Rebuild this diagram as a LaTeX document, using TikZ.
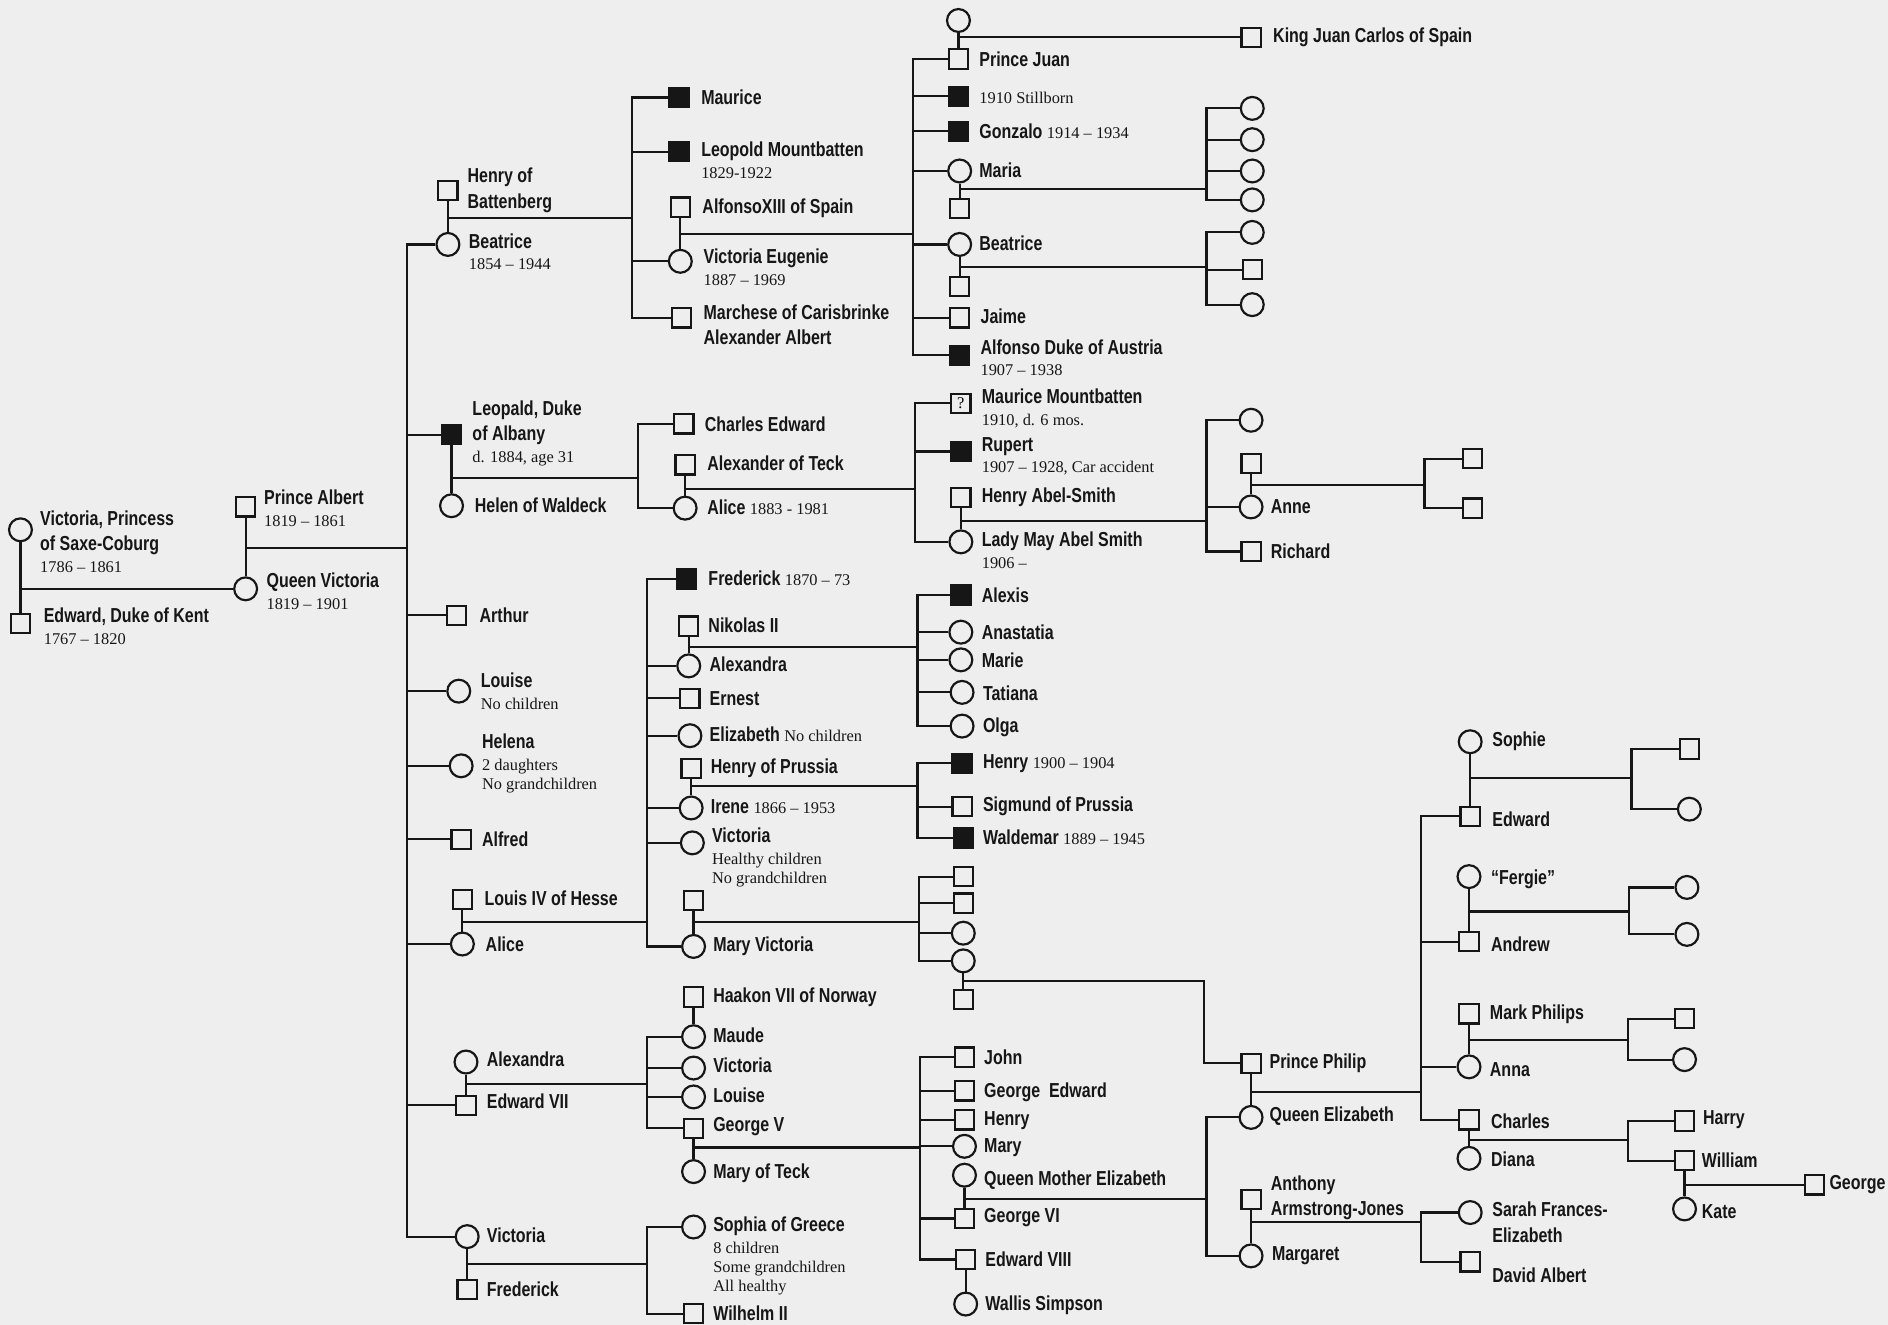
\documentclass[tikz,border=0pt]{standalone}
\usepackage{fontspec}
\setmainfont{Liberation Sans}
\newfontfamily\namefont[Ligatures=TeX,FakeStretch=0.79]{Liberation Sans Bold}
\newfontfamily\yearfont[Ligatures=TeX]{Liberation Serif}
\newcommand\nmf{\namefont\fontsize{8.4}{10.5}\selectfont}
\newcommand\yr{\yearfont\fontsize{6.8}{8}\selectfont}
\definecolor{paper}{RGB}{238,238,238}
\definecolor{ink}{RGB}{22,22,22}

\tikzset{
  man/.style={draw=ink, rectangle, minimum size=8pt, inner sep=0pt, line width=0.9pt},
  woman/.style={draw=ink, circle, minimum size=9.5pt, inner sep=0pt, line width=0.9pt},
  dead/.style={man, fill=ink},
  nm/.style={anchor=west, inner sep=0pt, align=left, font=\nmf, text=ink},
  tie/.style={draw=ink, line width=0.9pt},
}

\begin{document}
\begin{tikzpicture}[x=0.5pt,y=-0.5pt]
  \fill[paper] (0,0) rectangle (1568,1100);

  % Victoria's parents
  \node[woman] (vps) at (17,440) {};
  \node[man] (edk) at (17,518) {};
  \node[nm] (tvps) at (33,450) {Victoria, Princess\\of Saxe-Coburg\\[-1.5pt]{\yr 1786 -- 1861}};
  \node[nm] (tedk) at (36,520) {Edward, Duke of Kent\\[-1.5pt]{\yr 1767 -- 1820}};

  % Albert and Victoria
  \node[man] (albert) at (204,421) {};
  \node[woman] (qv) at (204,489) {};
  \node[nm] (talbert) at (219,422) {Prince Albert\\[-1.5pt]{\yr 1819 -- 1861}};
  \node[nm] (tqv) at (221,491) {Queen Victoria\\[-1.5pt]{\yr 1819 -- 1901}};
  \draw[tie] (vps) -- (edk);
  \draw[tie] (vps |- qv) -- (qv);
  \draw[tie] (albert) -- (qv);
  \coordinate (mqv) at (204,455);
  \coordinate (kqv) at (338,455);
  \draw[tie] (mqv) -- (kqv);

  % their children
  \node[man] (henryb) at (372,158) {};
  \node[woman] (beatrice) at (372,203) {};
  \node[dead] (leopald) at (375,361) {};
  \node[woman] (helen) at (375,420) {};
  \node[man] (arthur) at (379,511) {};
  \node[woman] (louise) at (381,574) {};
  \node[woman] (helena) at (383,636) {};
  \node[man] (alfred) at (383,697) {};
  \node[man] (louis) at (384,747) {};
  \node[woman] (alice) at (384,784) {};
  \node[woman] (alexandra) at (387,882) {};
  \node[man] (edward7) at (387,918) {};
  \node[woman] (victoria) at (388,1027) {};
  \node[man] (frederick) at (388,1071) {};
  \node[nm] (thenryb) at (388,158) {Henry of\\Battenberg};
  \node[nm] (tbeatrice) at (389,209) {Beatrice\\[-1.5pt]{\yr 1854 -- 1944}};
  \node[nm] (tleopald) at (392,360) {Leopald, Duke\\of Albany\\[-1.5pt]{\yr d. 1884, age 31}};
  \node[nm] (thelen) at (394,420) {Helen of Waldeck};
  \node[nm] (tarthur) at (398,511) {Arthur};
  \node[nm] (tlouise) at (399,574) {Louise\\[-1.5pt]{\yr No children}};
  \node[nm] (thelena) at (400,634) {Helena\\[-1.5pt]{\yr 2 daughters}\\[-2.5pt]{\yr No grandchildren}};
  \node[nm] (talfred) at (400,697) {Alfred};
  \node[nm] (tlouis) at (402,746) {Louis IV of Hesse};
  \node[nm] (talice) at (403,784) {Alice};
  \node[nm] (talexandra) at (404,880) {Alexandra};
  \node[nm] (tedward7) at (404,915) {Edward VII};
  \node[nm] (tvictoria) at (404,1026) {Victoria};
  \node[nm] (tfrederick) at (404,1071) {Frederick};
  \foreach \c in {beatrice,leopald,arthur,louise,helena,alfred,alice,edward7,victoria}
    \draw[tie] (\c.west) -| (kqv);
  \foreach \a/\b in {henryb/beatrice,leopald/helen,louis/alice,alexandra/edward7,victoria/frederick}
    \draw[tie] (\a) -- (\b);

  % Beatrice and Henry
  \node[dead] (maurice) at (564,81) {};
  \node[dead] (leopoldm) at (564,126) {};
  \node[man] (alfonso) at (565,172) {};
  \node[woman] (victeug) at (565,217) {};
  \node[man] (marchese) at (566,264) {};
  \node[nm] (tmaurice) at (582,81) {Maurice};
  \node[nm] (tleopoldm) at (582,133) {Leopold Mountbatten\\[-1.5pt]{\yr 1829-1922}};
  \node[nm] (talfonso) at (583,173) {AlfonsoXIII of Spain};
  \node[nm] (tvicteug) at (584,222) {Victoria Eugenie\\[-1.5pt]{\yr 1887 -- 1969}};
  \node[nm] (tmarchese) at (584,270) {Marchese of Carisbrinke\\Alexander Albert};
  \coordinate (mbea) at (372,181);
  \coordinate (kbea) at (525,181);
  \draw[tie] (mbea) -- (kbea);
  \foreach \c in {maurice,leopoldm,victeug,marchese}
    \draw[tie] (\c.west) -| (kbea);
  \draw[tie] (alfonso) -- (victeug);

  % Alfonso and Victoria Eugenie
  \node[woman] (jwife) at (796,17) {};
  \node[man] (juan) at (796,49) {};
  \node[man] (jcarlos) at (1039,31) {};
  \node[dead] (still) at (796,80) {};
  \node[dead] (gonzalo) at (796,109) {};
  \node[woman] (maria) at (797,142) {};
  \node[man] (mariah) at (797,173) {};
  \node[woman] (beatrice2) at (797,203) {};
  \node[man] (beah) at (797,238) {};
  \node[man] (jaime) at (797,264) {};
  \node[dead] (alfonsoa) at (797,295) {};
  \node[nm] (tjuan) at (813,49) {Prince Juan};
  \node[nm] (tjcarlos) at (1057,31) {King Juan Carlos of Spain};
  \node[nm] (tstill) at (813,81) {{\yr 1910 Stillborn}};
  \node[nm] (tgonzalo) at (813,109) {Gonzalo {\yr 1914 -- 1934}};
  \node[nm] (tmaria) at (813,141) {Maria};
  \node[nm] (tbeatrice2) at (813,202) {Beatrice};
  \node[nm] (tjaime) at (814,263) {Jaime};
  \node[nm] (talfonsoa) at (814,297) {Alfonso Duke of Austria\\[-1.5pt]{\yr 1907 -- 1938}};
  \coordinate (malf) at (565,194);
  \coordinate (kalf) at (758,194);
  \draw[tie] (malf) -- (kalf);
  \foreach \c in {juan,still,gonzalo,maria,beatrice2,jaime,alfonsoa}
    \draw[tie] (\c.west) -| (kalf);
  \foreach \a/\b in {jwife/juan,maria/mariah,beatrice2/beah}
    \draw[tie] (\a) -- (\b);
  \coordinate (mjuan) at (796,31);
  \draw[tie] (mjuan) -- (jcarlos);

  % Maria's and Beatrice's children
  \node[woman] (ma1) at (1040,90) {};
  \node[woman] (ma2) at (1040,116) {};
  \node[woman] (ma3) at (1040,142) {};
  \node[woman] (ma4) at (1040,166) {};
  \coordinate (mmar) at (797,157);
  \coordinate (kmar) at (1002,157);
  \draw[tie] (mmar) -- (kmar);
  \foreach \c in {ma1,ma2,ma3,ma4}
    \draw[tie] (\c.west) -| (kmar);
  \node[woman] (be1) at (1040,193) {};
  \node[man] (be2) at (1040,224) {};
  \node[woman] (be3) at (1040,253) {};
  \coordinate (mbe2) at (797,222);
  \coordinate (kbe2) at (1002,222);
  \draw[tie] (mbe2) -- (kbe2);
  \foreach \c in {be1,be2,be3}
    \draw[tie] (\c.west) -| (kbe2);

  % Leopald and Helen
  \node[man] (charles) at (568,352) {};
  \node[man] (alexteck) at (569,386) {};
  \node[woman] (alice2) at (569,422) {};
  \node[nm] (tcharles) at (585,352) {Charles Edward};
  \node[nm] (talexteck) at (587,385) {Alexander of Teck};
  \node[nm] (talice2) at (587,421) {Alice {\yr 1883 - 1981}};
  \coordinate (mleo) at (375,397);
  \coordinate (kleo) at (530,397);
  \draw[tie] (mleo) -- (kleo);
  \foreach \c in {charles,alice2}
    \draw[tie] (\c.west) -| (kleo);
  \draw[tie] (alexteck) -- (alice2);

  % Alice and Alexander of Teck
  \node[man, font=\yr] (mauricem) at (798,335) {?};
  \node[dead] (rupert) at (798,375) {};
  \node[man] (henryas) at (798,413) {};
  \node[woman] (ladymay) at (798,450) {};
  \node[nm] (tmauricem) at (815,339) {Maurice Mountbatten\\[-1.5pt]{\yr 1910, d. 6 mos.}};
  \node[nm] (trupert) at (815,379) {Rupert\\[-1.5pt]{\yr 1907 -- 1928, Car accident}};
  \node[nm] (thenryas) at (815,413) {Henry Abel-Smith};
  \node[nm] (tladymay) at (815,457) {Lady May Abel Smith\\[-1.5pt]{\yr 1906 --}};
  \coordinate (mal2) at (569,406);
  \coordinate (kal2) at (760,406);
  \draw[tie] (mal2) -- (kal2);
  \foreach \c in {mauricem,rupert,ladymay}
    \draw[tie] (\c.west) -| (kal2);
  \draw[tie] (henryas) -- (ladymay);

  % Lady May and Henry Abel-Smith
  \node[woman] (lm1) at (1039,349) {};
  \node[man] (anneh) at (1039,385) {};
  \node[woman] (anne) at (1039,421) {};
  \node[man] (richard) at (1039,458) {};
  \node[nm] (tanne) at (1055,421) {Anne};
  \node[nm] (trichard) at (1055,458) {Richard};
  \coordinate (mlm) at (798,433);
  \coordinate (klm) at (1002,433);
  \draw[tie] (mlm) -- (klm);
  \foreach \c in {lm1,anne,richard}
    \draw[tie] (\c.west) -| (klm);
  \draw[tie] (anneh) -- (anne);
  \node[man] (an1) at (1223,381) {};
  \node[man] (an2) at (1223,422) {};
  \coordinate (mann) at (1039,403);
  \coordinate (kann) at (1183,403);
  \draw[tie] (mann) -- (kann);
  \foreach \c in {an1,an2}
    \draw[tie] (\c.west) -| (kann);

  % Alice and Louis IV of Hesse
  \node[dead] (frederick2) at (570,481) {};
  \node[man] (nikolas) at (572,520) {};
  \node[woman] (alexandra2) at (572,553) {};
  \node[man] (ernest) at (573,580) {};
  \node[woman] (elizabeth) at (573,611) {};
  \node[man] (henryp) at (574,638) {};
  \node[woman] (irene) at (574,671) {};
  \node[woman] (victoria2) at (575,700) {};
  \node[man] (mvh) at (576,748) {};
  \node[woman] (maryv) at (576,786) {};
  \node[nm] (tfrederick2) at (588,480) {Frederick {\yr 1870 -- 73}};
  \node[nm] (tnikolas) at (588,519) {Nikolas II};
  \node[nm] (talexandra2) at (589,552) {Alexandra};
  \node[nm] (ternest) at (589,580) {Ernest};
  \node[nm] (telizabeth) at (589,610) {Elizabeth {\yr No children}};
  \node[nm] (thenryp) at (590,638) {Henry of Prussia};
  \node[nm] (tirene) at (590,670) {Irene {\yr 1866 -- 1953}};
  \node[nm] (tvictoria2) at (591,712) {Victoria\\[-1.5pt]{\yr Healthy children}\\[-2.5pt]{\yr No grandchildren}};
  \node[nm] (tmaryv) at (592,786) {Mary Victoria};
  \coordinate (malc) at (384,766);
  \coordinate (kalc) at (537,766);
  \draw[tie] (malc) -- (kalc);
  \foreach \c in {frederick2,alexandra2,ernest,elizabeth,irene,victoria2,maryv}
    \draw[tie] (\c.west) -| (kalc);
  \foreach \a/\b in {nikolas/alexandra2,henryp/irene,mvh/maryv}
    \draw[tie] (\a) -- (\b);

  % Alexandra and Nikolas II
  \node[dead] (alexis) at (798,494) {};
  \node[woman] (anastatia) at (798,525) {};
  \node[woman] (marie) at (798,548) {};
  \node[woman] (tatiana) at (799,575) {};
  \node[woman] (olga) at (799,603) {};
  \node[nm] (talexis) at (815,494) {Alexis};
  \node[nm] (tanastatia) at (815,525) {Anastatia};
  \node[nm] (tmarie) at (815,548) {Marie};
  \node[nm] (ttatiana) at (816,576) {Tatiana};
  \node[nm] (tolga) at (816,604) {Olga};
  \coordinate (mnik) at (572,537);
  \coordinate (knik) at (762,537);
  \draw[tie] (mnik) -- (knik);
  \foreach \c in {alexis,anastatia,marie,tatiana,olga}
    \draw[tie] (\c.west) -| (knik);

  % Irene and Henry of Prussia
  \node[dead] (henry3) at (799,634) {};
  \node[man] (sigmund) at (799,670) {};
  \node[dead] (waldemar) at (800,696) {};
  \node[nm] (thenry3) at (816,634) {Henry {\yr 1900 -- 1904}};
  \node[nm] (tsigmund) at (816,670) {Sigmund of Prussia};
  \node[nm] (twaldemar) at (816,695) {Waldemar {\yr 1889 -- 1945}};
  \coordinate (mire) at (574,653);
  \coordinate (kire) at (762,653);
  \draw[tie] (mire) -- (kire);
  \foreach \c in {henry3,sigmund,waldemar}
    \draw[tie] (\c.west) -| (kire);

  % Mary Victoria
  \node[man] (mv1) at (800,728) {};
  \node[man] (mv2) at (800,750) {};
  \node[woman] (mv3) at (800,775) {};
  \node[woman] (alicea) at (800,798) {};
  \node[man] (alicah) at (800,830) {};
  \coordinate (mmv) at (576,766);
  \coordinate (kmv) at (763,766);
  \draw[tie] (mmv) -- (kmv);
  \foreach \c in {mv1,mv2,mv3,alicea}
    \draw[tie] (\c.west) -| (kmv);
  \draw[tie] (alicea) -- (alicah);

  % Edward VII and Alexandra
  \node[man] (haakon) at (576,828) {};
  \node[woman] (maude) at (576,861) {};
  \node[woman] (victoria3) at (576,887) {};
  \node[woman] (louise2) at (576,911) {};
  \node[man] (george5) at (576,937) {};
  \node[woman] (maryteck) at (576,973) {};
  \node[nm] (thaakon) at (592,828) {Haakon VII of Norway};
  \node[nm] (tmaude) at (592,860) {Maude};
  \node[nm] (tvictoria3) at (592,885) {Victoria};
  \node[nm] (tlouise2) at (592,910) {Louise};
  \node[nm] (tgeorge5) at (592,936) {George V};
  \node[nm] (tmaryteck) at (592,974) {Mary of Teck};
  \coordinate (med7) at (387,900);
  \coordinate (ked7) at (537,900);
  \draw[tie] (med7) -- (ked7);
  \foreach \c in {maude,victoria3,louise2,george5}
    \draw[tie] (\c.west) -| (ked7);
  \foreach \a/\b in {haakon/maude,george5/maryteck}
    \draw[tie] (\a) -- (\b);

  % Victoria and Frederick
  \node[woman] (sophia) at (576,1019) {};
  \node[man] (wilhelm) at (576,1091) {};
  \node[nm] (tsophia) at (592,1043) {Sophia of Greece\\[-1.5pt]{\yr 8 children}\\[-2.5pt]{\yr Some grandchildren}\\[-2.5pt]{\yr All healthy}};
  \node[nm] (twilhelm) at (592,1091) {Wilhelm II};
  \coordinate (mvic) at (388,1050);
  \coordinate (kvic) at (537,1050);
  \draw[tie] (mvic) -- (kvic);
  \foreach \c in {sophia,wilhelm}
    \draw[tie] (\c.west) -| (kvic);

  % George V and Mary of Teck
  \node[man] (john) at (801,878) {};
  \node[man] (georgee) at (801,906) {};
  \node[man] (henry4) at (801,930) {};
  \node[woman] (mary2) at (801,952) {};
  \node[woman] (qmother) at (801,976) {};
  \node[man] (george6) at (801,1012) {};
  \node[man] (edward8) at (802,1046) {};
  \node[woman] (wallis) at (802,1083) {};
  \node[nm] (tjohn) at (817,878) {John};
  \node[nm] (tgeorgee) at (817,907) {George~ Edward};
  \node[nm] (thenry4) at (817,931) {Henry};
  \node[nm] (tmary2) at (817,953) {Mary};
  \node[nm] (tqmother) at (817,980) {Queen Mother Elizabeth};
  \node[nm] (tgeorge6) at (817,1011) {George VI};
  \node[nm] (tedward8) at (818,1046) {Edward VIII};
  \node[nm] (twallis) at (818,1084) {Wallis Simpson};
  \coordinate (mge5) at (576,953);
  \coordinate (kge5) at (764,953);
  \draw[tie] (mge5) -- (kge5);
  \foreach \c in {john,georgee,henry4,mary2,george6,edward8}
    \draw[tie] (\c.west) -| (kge5);
  \foreach \a/\b in {qmother/george6,edward8/wallis}
    \draw[tie] (\a) -- (\b);

  % George VI and Elizabeth
  \node[man] (philip) at (1039,883) {};
  \node[woman] (elizabeth2) at (1039,928) {};
  \node[man] (antony) at (1039,996) {};
  \node[woman] (margaret) at (1039,1043) {};
  \node[nm] (tphilip) at (1054,883) {Prince Philip};
  \node[nm] (telizabeth2) at (1054,927) {Queen Elizabeth};
  \node[nm] (tantony) at (1055,995) {Anthony\\Armstrong-Jones};
  \node[nm] (tmargaret) at (1056,1043) {Margaret};
  \coordinate (mge6) at (801,996);
  \coordinate (kge6) at (1002,996);
  \draw[tie] (mge6) -- (kge6);
  \foreach \c in {elizabeth2,margaret}
    \draw[tie] (\c.west) -| (kge6);
  \foreach \a/\b in {philip/elizabeth2,antony/margaret}
    \draw[tie] (\a) -- (\b);
  \coordinate (mali) at (800,815);
  \coordinate (kali) at (1000,883);
  \draw[tie] (mali) -| (kali) -- (philip.west);

  % Elizabeth and Philip
  \node[woman] (sophie) at (1221,616) {};
  \node[man] (edward) at (1221,678) {};
  \node[woman] (fergie) at (1220,728) {};
  \node[man] (andrew) at (1220,782) {};
  \node[man] (mark) at (1220,842) {};
  \node[woman] (anna) at (1220,886) {};
  \node[man] (charles2) at (1220,930) {};
  \node[woman] (diana) at (1220,962) {};
  \node[nm] (tsophie) at (1239,616) {Sophie};
  \node[nm] (tedward) at (1239,680) {Edward};
  \node[nm] (tfergie) at (1238,730) {“Fergie”};
  \node[nm] (tandrew) at (1238,784) {Andrew};
  \node[nm] (tmark) at (1237,842) {Mark Philips};
  \node[nm] (tanna) at (1237,888) {Anna};
  \node[nm] (tcharles2) at (1238,931) {Charles};
  \node[nm] (tdiana) at (1238,963) {Diana};
  \coordinate (meli) at (1039,907);
  \coordinate (keli) at (1180,907);
  \draw[tie] (meli) -- (keli);
  \foreach \c in {edward,andrew,anna,charles2}
    \draw[tie] (\c.west) -| (keli);
  \foreach \a/\b in {sophie/edward,fergie/andrew,mark/anna,charles2/diana}
    \draw[tie] (\a) -- (\b);

  % grandchildren
  \node[man] (ed1) at (1403,622) {};
  \node[woman] (ed2) at (1403,672) {};
  \coordinate (medw) at (1221,646);
  \coordinate (kedw) at (1355,646);
  \draw[tie] (medw) -- (kedw);
  \foreach \c in {ed1,ed2}
    \draw[tie] (\c.west) -| (kedw);
  \node[woman] (aw1) at (1401,737) {};
  \node[woman] (aw2) at (1401,776) {};
  \coordinate (mand) at (1220,757);
  \coordinate (kand) at (1353,757);
  \draw[tie] (mand) -- (kand);
  \foreach \c in {aw1,aw2}
    \draw[tie] (\c.west) -| (kand);
  \node[man] (as1) at (1399,846) {};
  \node[woman] (as2) at (1399,880) {};
  \coordinate (mann2) at (1220,864);
  \coordinate (kann2) at (1352,864);
  \draw[tie] (mann2) -- (kann2);
  \foreach \c in {as1,as2}
    \draw[tie] (\c.west) -| (kann2);
  \node[man] (harry) at (1399,931) {};
  \node[man] (william) at (1399,964) {};
  \node[woman] (kate) at (1399,1004) {};
  \node[man] (george) at (1507,984) {};
  \node[nm] (tharry) at (1414,930) {Harry};
  \node[nm] (twilliam) at (1413,964) {William};
  \node[nm] (tkate) at (1413,1006) {Kate};
  \node[nm] (tgeorge) at (1519,984) {George};
  \coordinate (mcha) at (1220,947);
  \coordinate (kcha) at (1352,947);
  \draw[tie] (mcha) -- (kcha);
  \foreach \c in {harry,william}
    \draw[tie] (\c.west) -| (kcha);
  \draw[tie] (william) -- (kate);
  \coordinate (mwil) at (1399,984);
  \draw[tie] (mwil) -- (george);

  % Margaret and Anthony
  \node[woman] (sarah) at (1221,1007) {};
  \node[man] (david) at (1221,1048) {};
  \node[nm] (tsarah) at (1239,1015) {Sarah Frances-\\Elizabeth};
  \node[nm] (tdavid) at (1239,1059) {David Albert};
  \coordinate (mmag) at (1039,1015);
  \coordinate (kmag) at (1180,1015);
  \draw[tie] (mmag) -- (kmag);
  \foreach \c in {sarah,david}
    \draw[tie] (\c.west) -| (kmag);
\end{tikzpicture}
\end{document}
